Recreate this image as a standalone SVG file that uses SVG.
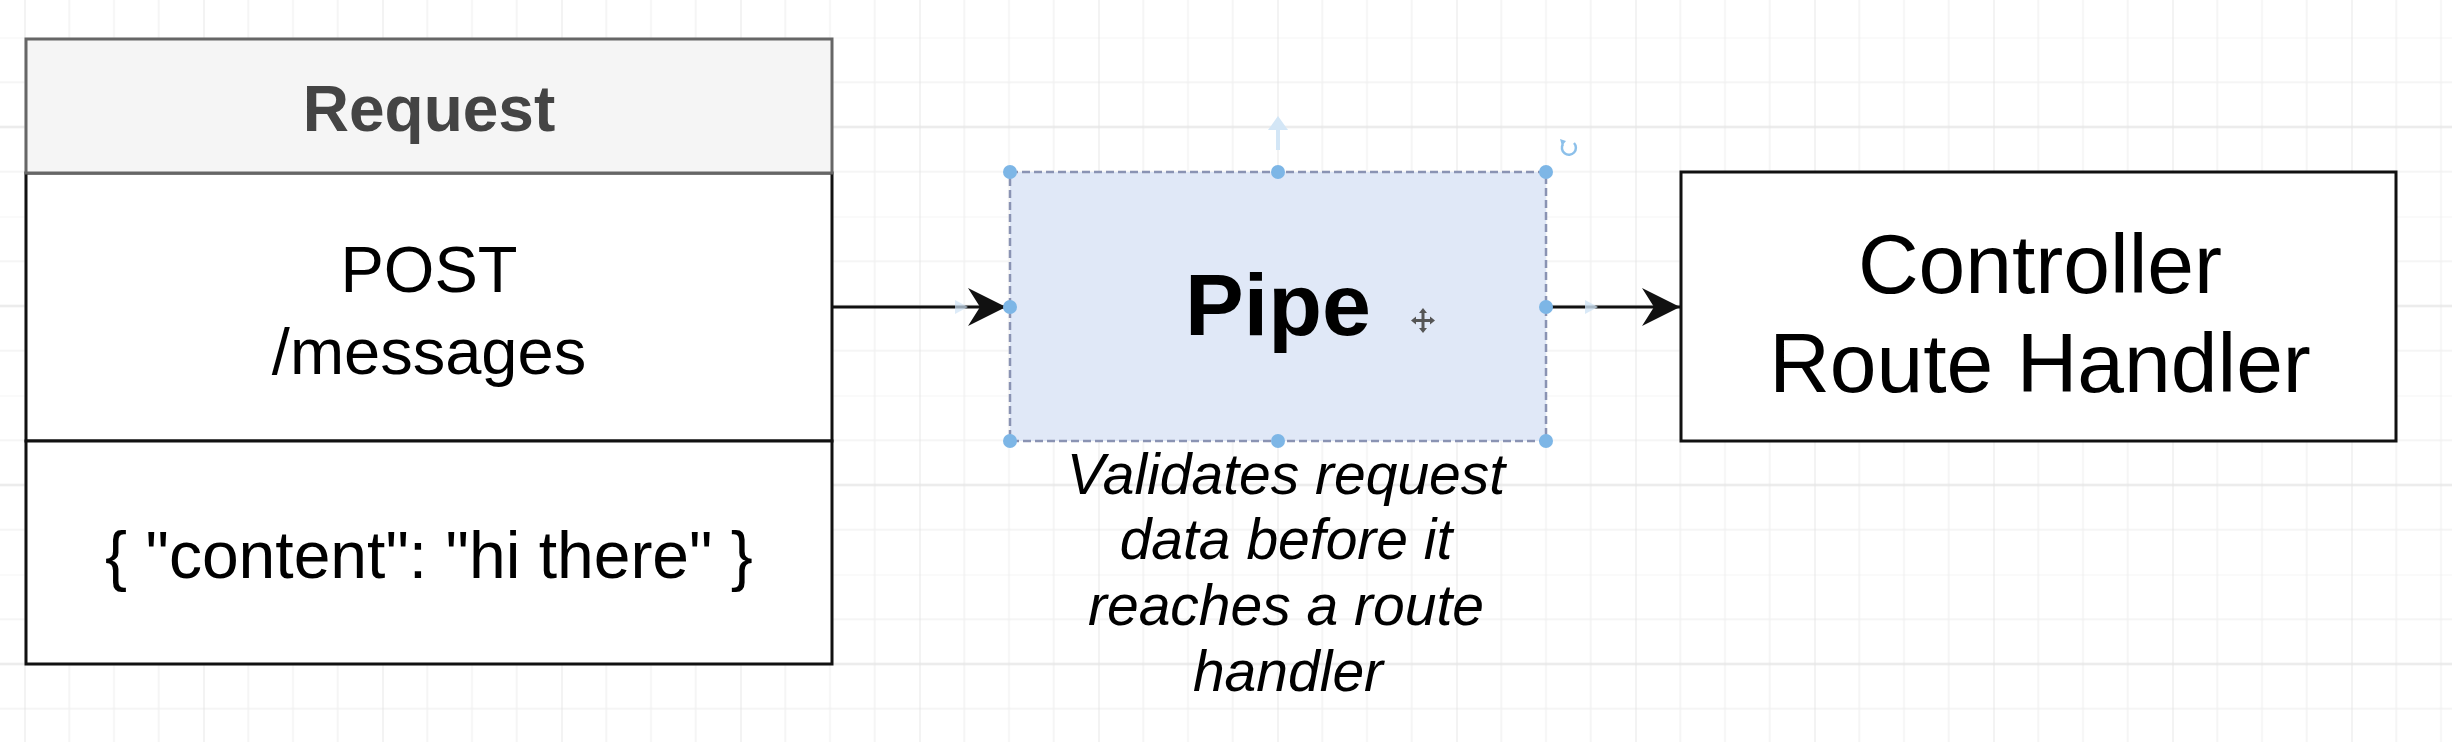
<svg xmlns="http://www.w3.org/2000/svg" width="2452" height="742" viewBox="0 0 2452 742">
<defs>
<style>
.t{font-family:"Liberation Sans",Arial,Helvetica,sans-serif;text-anchor:middle;fill:#000}
.box{fill:#fff;stroke:#111;stroke-width:3}
.conn{stroke:#111;stroke-width:3;fill:none}
.handle{fill:#7db6e6}
</style>
<pattern id="grid" patternUnits="userSpaceOnUse" x="24.5" y="37.5" width="179" height="179">
<path d="M44.75 0V179M89.5 0V179M134.25 0V179M0 0H179M0 44.75H179M0 134.25H179" stroke="#f1f1f1" stroke-width="1.5" fill="none"/>
<path d="M0 0V179M0 89.5H179" stroke="#e6e6e6" stroke-width="2" fill="none"/>
</pattern>
<marker id="arr" viewBox="0 0 40 40" refX="38" refY="20" markerWidth="40" markerHeight="40" markerUnits="userSpaceOnUse" orient="auto">
<path d="M0 1L38 20L0 39L12 20Z" fill="#111"/>
</marker>
</defs>
<rect width="2452" height="742" fill="#fff"/>
<rect width="2452" height="742" fill="url(#grid)"/>

<g id="request">
<rect class="box" x="26" y="173" width="806" height="268"/>
<rect class="box" x="26" y="441" width="806" height="223"/>
<rect x="26" y="39" width="806" height="134" fill="#f5f5f5" stroke="#666" stroke-width="3"/>
<text class="t" x="429" y="131" font-size="64" font-weight="bold" fill="#444" style="fill:#444">Request</text>
<text class="t" x="429" y="292" font-size="65">POST</text>
<text class="t" x="429" y="374" font-size="65">/messages</text>
<text class="t" x="429" y="578" font-size="66">{ "content": "hi there" }</text>
</g>

<g id="connectors">
<line class="conn" x1="832" y1="307" x2="1006" y2="307" marker-end="url(#arr)"/>
<line class="conn" x1="1547" y1="307" x2="1680" y2="307" marker-end="url(#arr)"/>
<path d="M955 300L968 307L955 314Z" fill="#cfe3f5" opacity="0.7"/>
<path d="M1585 300L1598 307L1585 314Z" fill="#cfe3f5" opacity="0.8"/>
</g>

<g id="pipe">
<rect x="1010" y="172" width="536" height="269" fill="#e0e8f7" stroke="#8a93b3" stroke-width="2.5" stroke-dasharray="8 4"/>
<text class="t" x="1278" y="335" font-size="88" font-weight="bold">Pipe</text>
<g fill="#555">
<rect x="1421.5" y="312" width="3" height="17"/>
<rect x="1414.5" y="319" width="17" height="3"/>
<path d="M1423 308L1427 313H1419ZM1423 333L1427 328H1419ZM1411 320.5L1416 316.5V324.5ZM1435 320.5L1430 316.5V324.5Z"/>
</g>
<g id="selection">
<path d="M1278 150V124" stroke="#d3e6f6" stroke-width="4"/>
<path d="M1268 130L1278 116L1288 130Z" fill="#d3e6f6"/>
<path d="M1574 143A7 7 0 1 1 1563 144" fill="none" stroke="#8cc0ea" stroke-width="2.5"/>
<path d="M1560 139L1566 141L1562 146Z" fill="#8cc0ea"/>
<circle class="handle" cx="1010" cy="172" r="7"/>
<circle class="handle" cx="1278" cy="172" r="7"/>
<circle class="handle" cx="1546" cy="172" r="7"/>
<circle class="handle" cx="1010" cy="307" r="7"/>
<circle class="handle" cx="1546" cy="307" r="7"/>
<circle class="handle" cx="1010" cy="441" r="7"/>
<circle class="handle" cx="1278" cy="441" r="7"/>
<circle class="handle" cx="1546" cy="441" r="7"/>
</g>
<text class="t" x="1286" y="494" font-size="57" font-style="italic">Validates request</text>
<text class="t" x="1286" y="559" font-size="57" font-style="italic">data before it</text>
<text class="t" x="1286" y="625" font-size="57" font-style="italic">reaches a route</text>
<text class="t" x="1288" y="691" font-size="57" font-style="italic">handler</text>
</g>

<g id="controller">
<rect class="box" x="1681" y="172" width="715" height="269"/>
<text class="t" x="2040" y="293" font-size="84">Controller</text>
<text class="t" x="2040" y="392" font-size="84">Route Handler</text>
</g>
</svg>
